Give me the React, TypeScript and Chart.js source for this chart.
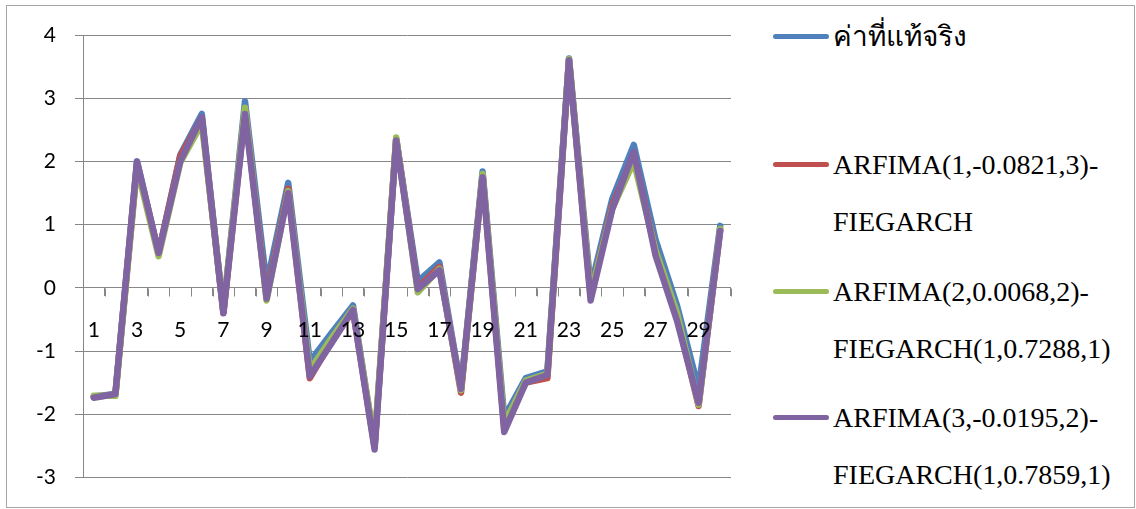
import React, { useEffect, useRef } from "react";
import { Chart, registerables } from "chart.js";

Chart.register(...registerables);

const categories = Array.from({ length: 30 }, (_, i) => String(i + 1));

const actualValues = [
  -1.72, -1.68, 2.0, 0.55, 2.1, 2.75, -0.38, 2.95, 0.05, 1.66,
  -1.17, -0.72, -0.28, -2.5, 2.35, 0.1, 0.4, -1.6, 1.84, -2.05,
  -1.43, -1.32, 3.63, 0.0, 1.4, 2.26, 0.77, -0.28, -1.6, 0.98,
];
const model1Values = [
  -1.73, -1.69, 1.95, 0.55, 2.08, 2.68, -0.4, 2.8, -0.12, 1.57,
  -1.43, -0.85, -0.36, -2.52, 2.36, 0.0, 0.33, -1.66, 1.78, -2.2,
  -1.5, -1.43, 3.6, -0.12, 1.3, 2.1, 0.6, -0.45, -1.87, 0.92,
];
const model2Values = [
  -1.71, -1.71, 1.9, 0.5, 1.98, 2.6, -0.35, 2.85, -0.2, 1.53,
  -1.3, -0.8, -0.33, -2.45, 2.38, -0.07, 0.3, -1.62, 1.8, -2.15,
  -1.47, -1.36, 3.62, -0.1, 1.25, 2.0, 0.6, -0.4, -1.85, 0.93,
];
const model3Values = [
  -1.74, -1.68, 2.0, 0.55, 2.0, 2.7, -0.4, 2.75, -0.17, 1.5,
  -1.4, -0.88, -0.35, -2.56, 2.33, -0.02, 0.28, -1.6, 1.75, -2.28,
  -1.5, -1.38, 3.6, -0.2, 1.24, 2.15, 0.52, -0.52, -1.82, 0.9,
];

const seriesLabels = [
  ["ค่าที่แท้จริง"],
  ["ARFIMA(1,-0.0821,3)-", "FIEGARCH"],
  ["ARFIMA(2,0.0068,2)-", "FIEGARCH(1,0.7288,1)"],
  ["ARFIMA(3,-0.0195,2)-", "FIEGARCH(1,0.7859,1)"],
];
const seriesColors = ["#4F81BD", "#C0504D", "#9BBB59", "#8064A2"];
const seriesValues = [actualValues, model1Values, model2Values, model3Values];

const yMin = -3;
const yMax = 4;

const legendTops = [8, 136, 263, 389];

const gridColor = "#878787";

// Draws the small category tick marks below the horizontal axis (at y = 0),
// at every category boundary, computed from the scales.
const categoryTickPlugin = {
  id: "categoryTicks",
  beforeDatasetsDraw(chart: any) {
    const x = chart.scales.x;
    const y = chart.scales.y;
    const ctx = chart.ctx;
    const y0 = Math.round(y.getPixelForValue(0)) + 0.5;
    const n = categories.length;
    const step = (x.getPixelForTick(n - 1) - x.getPixelForTick(0)) / (n - 1);
    ctx.save();
    ctx.strokeStyle = gridColor;
    ctx.lineWidth = 1;
    ctx.beginPath();
    for (let i = 0; i <= n; i++) {
      const px = Math.round(x.getPixelForTick(0) - step / 2 + i * step) + 0.5;
      ctx.moveTo(px, y0);
      ctx.lineTo(px, y0 + 8);
    }
    ctx.stroke();
    ctx.restore();
  },
};

export default function App() {
  const canvasRef = useRef<HTMLCanvasElement | null>(null);

  useEffect(() => {
    const canvas = canvasRef.current;
    if (!canvas) return;
    const chart = new Chart(canvas, {
      type: "line",
      data: {
        labels: categories,
        datasets: seriesValues.map((vals, i) => ({
          label: seriesLabels[i].join(" "),
          data: vals,
          borderColor: seriesColors[i],
          backgroundColor: seriesColors[i],
          borderWidth: 6.5,
          pointRadius: 0,
          pointHoverRadius: 0,
          tension: 0,
          borderJoinStyle: "round" as const,
          borderCapStyle: "round" as const,
          order: 3 - i,
        })),
      },
      plugins: [categoryTickPlugin],
      options: {
        responsive: false,
        animation: false,
        devicePixelRatio: 1,
        layout: { padding: { left: 0, top: 35, right: 29, bottom: 29 } },
        plugins: {
          legend: { display: false },
          tooltip: { enabled: false },
        },
        scales: {
          x: {
            type: "category",
            position: { y: 0 } as any,
            offset: true,
            afterFit: (scale: any) => {
              scale.height = 0;
            },
            grid: {
              offset: true,
              drawOnChartArea: false,
              drawTicks: true,
              tickLength: 8,
              color: gridColor,
              tickColor: gridColor,
              lineWidth: 1,
              tickWidth: 1,
            },
            border: { display: false },
            ticks: {
              z: 1,
              autoSkip: false,
              maxRotation: 0,
              minRotation: 0,
              padding: 22,
              color: "#000000",
              font: { family: "Lato", size: 21 },
              callback: (_v: any, idx: number) => (idx % 2 === 0 ? categories[idx] : ""),
            },
          },
          y: {
            min: yMin,
            max: yMax,
            afterFit: (scale: any) => {
              scale.width = 83;
            },
            grid: {
              color: gridColor,
              lineWidth: 1,
              drawTicks: true,
              tickLength: 8,
            },
            border: { display: true, color: gridColor, width: 1 },
            ticks: {
              stepSize: 1,
              padding: 19,
              color: "#000000",
              font: { family: "Lato", size: 21 },
            },
          },
        },
      },
    });
    return () => chart.destroy();
  }, []);

  return (
    <div
      style={{
        position: "fixed",
        left: 0,
        top: 0,
        width: 1136,
        height: 509,
        background: "#ffffff",
        overflow: "hidden",
      }}
    >
      <div
        style={{
          position: "absolute",
          left: 6,
          top: 5,
          width: 1127,
          height: 501,
          border: "1px solid #a6a6a6",
        }}
      />
      <canvas
        ref={canvasRef}
        width={760}
        height={509}
        style={{ position: "absolute", left: 0, top: 0, width: 760, height: 509 }}
      />
      {seriesLabels.map((lines, i) => (
        <div
          key={i}
          style={{
            position: "absolute",
            left: 773,
            top: legendTops[i],
            fontFamily: "'Liberation Serif', 'Times New Roman', serif",
            fontSize: 28,
            lineHeight: "57px",
            color: "#000000",
            whiteSpace: "nowrap",
          }}
        >
          <div
            style={{
              position: "absolute",
              left: 0,
              top: 26,
              width: 56,
              height: 5,
              borderRadius: 3,
              background: seriesColors[i],
            }}
          />
          <div style={{ marginLeft: 60 }}>
            {lines.map((t, j) => (
              <div key={j}>{t}</div>
            ))}
          </div>
        </div>
      ))}
    </div>
  );
}
